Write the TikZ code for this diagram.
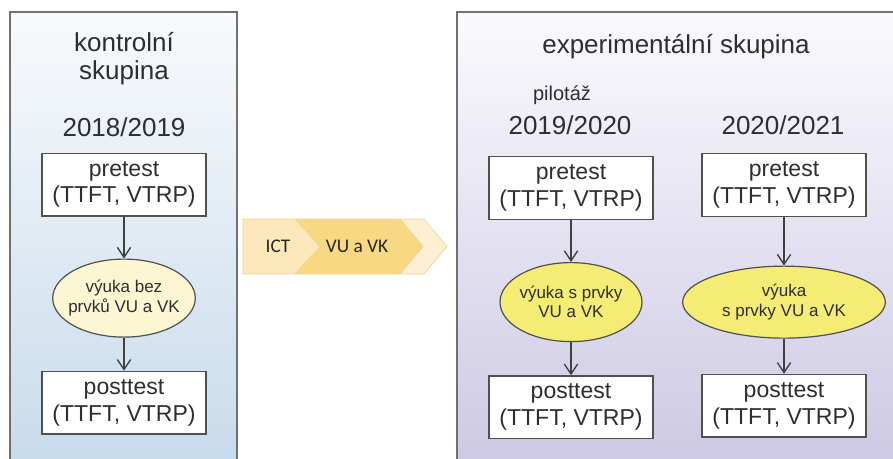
\documentclass[tikz,border=0pt]{standalone}
\usepackage{fontspec}
\setmainfont{Liberation Sans}
\newfontfamily\chevfont{Carlito}
\usepackage{tikz}
\usetikzlibrary{%
   arrows.meta,%
   positioning,%
   shapes.geometric}
\definecolor{txtgray}{HTML}{2E2E2E}
\definecolor{linegray}{HTML}{505050}
\definecolor{arrgray}{HTML}{404040}
\definecolor{pangray}{HTML}{707070}
\definecolor{kontop}{HTML}{F8FAFC}
\definecolor{konbot}{HTML}{C6DAEA}
\definecolor{exptop}{HTML}{FAFAFD}
\definecolor{expbot}{HTML}{CBC7E3}
\definecolor{vykpale}{HTML}{FCF6D2}
\definecolor{vykyell}{HTML}{F4EC74}
\definecolor{chevlite}{HTML}{FCE8BA}
\definecolor{chevdark}{HTML}{F9D883}
\definecolor{chevpale}{HTML}{FDEFD3}
\definecolor{chevedge}{HTML}{F1D597}

\begin{document}
\begin{tikzpicture}
[x=0.75pt, y=-0.75pt,
 node distance=31.5pt,
 font=\fontsize{17.25pt}{20pt}\selectfont,
 text=txtgray,
 ttl/.style={align=center, font=\fontsize{19.5pt}{21pt}\selectfont},
 box/.style={draw=linegray, fill=white, line width=1pt, align=center, minimum width=123pt, minimum height=47pt, inner sep=0pt},
 elli/.style={draw=linegray, ellipse, line width=0.9pt, align=center, inner xsep=-4pt, inner ysep=0pt, font=\fontsize{12.75pt}{14.5pt}\selectfont},
 chev/.style={font=\chevfont\fontsize{14.5pt}{16pt}\selectfont, text=black!85},
 pfeil/.style={-{Straight Barb[length=7.5pt,width=10pt]}, line width=1pt, draw=arrgray}]
\clip (0,0) rectangle (893,458);
% panels
\path[draw=pangray, line width=1.1pt, top color=kontop, bottom color=konbot] (10,12) rectangle (237,480);
\path[draw=pangray, line width=1.1pt, top color=exptop, bottom color=expbot] (457,12) rectangle (910,480);
% kontrolni skupina
\node (kontitl) [ttl] at (124,59) {kontrolní\\skupina};
\node (rokkont) [ttl] at (124,127) {2018/2019};
\node (pretkon) [box] at (124,184.5) {pretest\\(TTFT, VTRP)};
\node (vyukkon) [elli, fill=vykpale, minimum width=105pt, minimum height=58.5pt, below=of pretkon] {výuka bez\\prvků VU a VK};
\node (postkon) [box, below=24.75pt of vyukkon] {posttest\\(TTFT, VTRP)};
% experimentalni skupina
\node (exptitl) [ttl] at (676,47) {experimentální skupina};
\node (pilotaz) [font=\fontsize{15pt}{17pt}\selectfont] at (562,95) {pilotáž};
\node (rokpilo) [ttl] at (570,125) {2019/2020};
\node (rokexpe) [ttl] at (783,125) {2020/2021};
\node (pretpil) [box] at (571,188) {pretest\\(TTFT, VTRP)};
\node (vyukpil) [elli, fill=vykyell, minimum width=106.5pt, minimum height=59.25pt, below=of pretpil] {výuka s prvky\\VU a VK};
\node (postpil) [box, below=24.75pt of vyukpil] {posttest\\(TTFT, VTRP)};
\node (pretexp) [box] at (784,185) {pretest\\(TTFT, VTRP)};
\node (vyukexp) [elli, fill=vykyell, minimum width=152pt, minimum height=54pt, below=36.4pt of pretexp] {výuka\\s prvky VU a VK};
\node (postexp) [box, below=26.25pt of vyukexp] {posttest\\(TTFT, VTRP)};
% ICT -> VU a VK
\path[fill=chevpale, draw=chevedge, line width=0.5pt] (400,219) -- (424,219) -- (447,246.5) -- (424,274) -- (400,274) -- (423,246.5) -- cycle;
\path[fill=chevlite, draw=chevedge, line width=0.5pt] (243,219) -- (295,219) -- (320,246.5) -- (295,274) -- (243,274) -- cycle;
\path[fill=chevdark, draw=chevedge, line width=0.5pt] (295,219) -- (400,219) -- (423,246.5) -- (400,274) -- (295,274) -- (320,246.5) -- cycle;
\node (ictlabl) [chev] at (278,246.5) {ICT};
\node (vuvklab) [chev] at (357,246.5) {VU a VK};
%
\draw[pfeil] (pretkon) -- (vyukkon);
\draw[pfeil] (vyukkon) -- (postkon);
\draw[pfeil] (pretpil) -- (vyukpil);
\draw[pfeil] (vyukpil) -- (postpil);
\draw[pfeil] (pretexp) -- (vyukexp);
\draw[pfeil] (vyukexp) -- (postexp);
\end{tikzpicture}
\end{document}
